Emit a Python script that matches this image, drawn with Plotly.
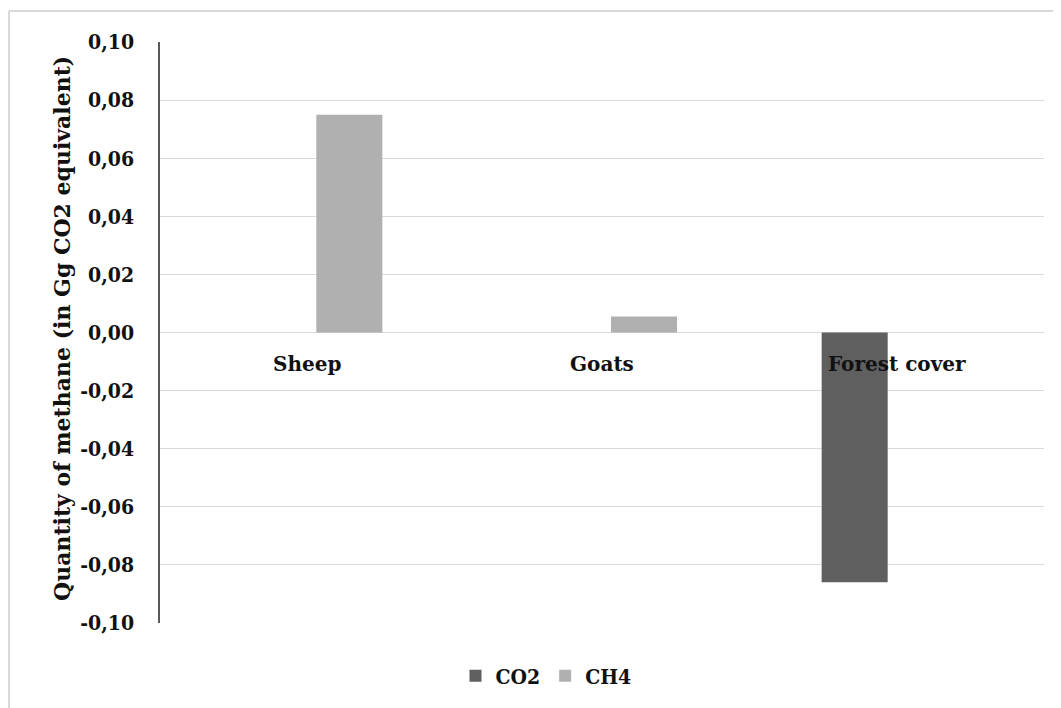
import plotly.graph_objects as go

categories = ["Sheep", "Goats", "Forest cover"]
co2_values = [0.0, 0.0, -0.086]
ch4_values = [0.075, 0.0055, 0.0]
tick_values = [0.10, 0.08, 0.06, 0.04, 0.02, 0.0, -0.02, -0.04, -0.06, -0.08, -0.10]
tick_labels = ["0,10", "0,08", "0,06", "0,04", "0,02", "0,00", "-0,02", "-0,04", "-0,06", "-0,08", "-0,10"]
y_title = "Quantity of methane (in Gg CO2 equivalent)"

FONT_C = "DejaVu Serif Condensed, DejaVu Serif, serif"
FONT_N = "DejaVu Serif, serif"
OFF = 8  # page body margin offset
W, H = 1061, 708
# target pixel positions in the screenshot
PL, PR, PT, PB = 160, 1044, 42, 623
L, T = PL - OFF, PT - OFF
R = W - (PR - OFF)
B = H - (PB - OFF)
pw, ph = W - L - R, H - T - B

def px_x(p):
    return (p - OFF - L) / pw

def px_y(p):
    return (H - B - (p - OFF)) / ph

tick_font = dict(family=FONT_C, size=21, color="#111111", weight="bold")
cat_font = dict(family=FONT_N, size=20, color="#111111", weight="bold")
title_font = dict(family=FONT_N, size=22, color="#111111", weight="bold")
leg_font = dict(family=FONT_C, size=21, color="#111111", weight="bold")

fig = go.Figure()
fig.add_trace(go.Bar(x=categories, y=co2_values, name="CO2",
                     marker=dict(color="#5f5f5f", line=dict(width=0))))
fig.add_trace(go.Bar(x=categories, y=ch4_values, name="CH4",
                     marker=dict(color="#b0b0b0", line=dict(width=0))))

for c in categories:
    fig.add_annotation(x=c, y=0, xref="x", yref="y", text=c, showarrow=False,
                       yshift=-31, yanchor="middle", xanchor="center", font=cat_font)

fig.add_annotation(x=px_x(62), y=px_y(329), xref="paper", yref="paper", text=y_title,
                   textangle=-90, showarrow=False, xanchor="center", yanchor="middle",
                   font=title_font)

# outer chart border (left and top visible)
fig.add_shape(type="line", xref="paper", yref="paper", x0=px_x(9), x1=px_x(1075),
              y0=px_y(11), y1=px_y(11), line=dict(color="#d9d9d9", width=2))
fig.add_shape(type="line", xref="paper", yref="paper", x0=px_x(9), x1=px_x(9),
              y0=px_y(11), y1=px_y(730), line=dict(color="#d9d9d9", width=2))

fig.update_layout(
    width=W, height=H,
    margin=dict(l=L, r=R, t=T, b=B, autoexpand=False),
    paper_bgcolor="white", plot_bgcolor="white",
    barmode="group", bargap=0.43, bargroupgap=0.214,
    font=tick_font,
    showlegend=True,
    legend=dict(orientation="h", x=px_x(546), y=px_y(676), xanchor="center", yanchor="middle",
                font=leg_font, itemwidth=30, traceorder="normal"),
    xaxis=dict(showticklabels=False, showgrid=False, zeroline=False, showline=False, ticks=""),
    yaxis=dict(range=[-0.10, 0.10], tickvals=tick_values, ticktext=tick_labels,
               showgrid=True, gridcolor="#d9d9d9", gridwidth=1,
               zeroline=False, showline=True, linecolor="#595959", linewidth=1.5,
               ticks="", ticklabelstandoff=20, tickfont=tick_font),
)

fig.write_html("out.html")
